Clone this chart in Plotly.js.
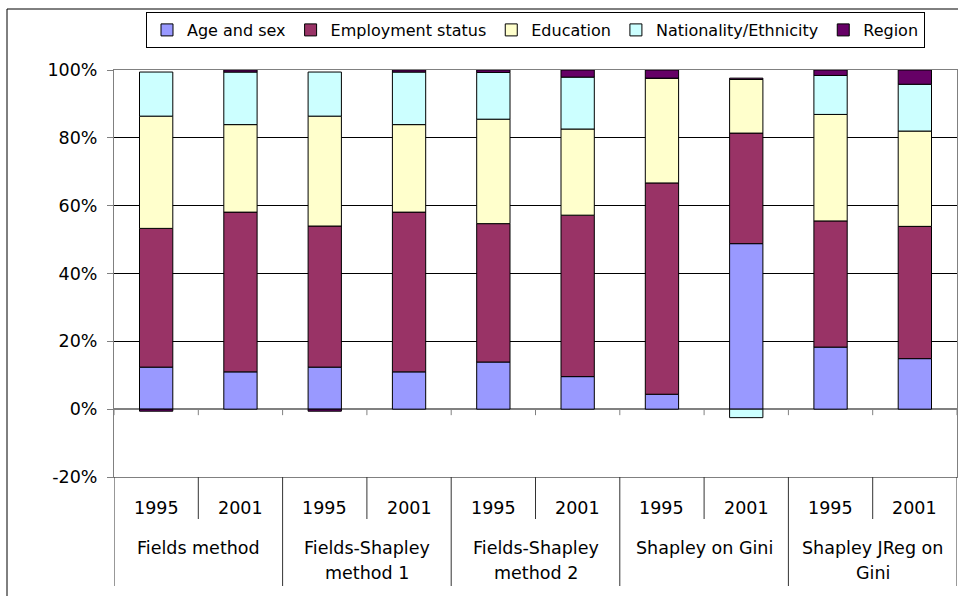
<!DOCTYPE html>
<html>
<head>
<meta charset="utf-8">
<script src="https://cdn.plot.ly/plotly-3.0.1.min.js"></script>
<style>
html,body{margin:0;padding:0;background:#fff;}
#chart{width:958px;height:596px;}
</style>
</head>
<body>
<div id="chart"></div>
<script>
// ---- data (percent of total inequality explained) ----
const groups = ["Fields method", "Fields-Shapley<br>method 1", "Fields-Shapley<br>method 2", "Shapley on Gini", "Shapley JReg on<br>Gini"];
const years = ["1995", "2001"];
const seriesNames = ["Age and sex", "Employment status", "Education", "Nationality/Ethnicity", "Region"];
const ageSex      = [12.4, 11.0, 12.4, 11.0, 13.9,  9.6,  4.4, 48.8, 18.3, 14.9];
const employment  = [40.9, 47.1, 41.6, 47.1, 40.8, 47.6, 62.3, 32.6, 37.2, 39.0];
const education   = [33.1, 25.8, 32.4, 25.8, 30.8, 25.4, 30.9, 15.8, 31.4, 28.1];
const nationality = [13.0, 15.5, 13.0, 15.5, 13.8, 15.3,  0.0, -2.5, 11.5, 13.8];
const region      = [-0.6,  0.6, -0.6,  0.6,  0.7,  2.1,  2.4,  0.4,  1.6,  4.2];
const yTicks = [-20, 0, 20, 40, 60, 80, 100];

// ---- styling ----
const colors = ["#9999FF", "#993366", "#FFFFCC", "#CCFFFF", "#660066"];
const FONT = "DejaVu Sans, Liberation Sans, Arial, sans-serif";
const FS = 17.5;
const LFS = 16;

// category keys (one per bar)
const cats = [];
groups.forEach(g => years.forEach(y => cats.push(g.replace("<br>", " ") + " | " + y)));

const values = [ageSex, employment, education, nationality, region];
const traces = values.map((v, i) => ({
  type: "bar",
  name: seriesNames[i],
  x: cats,
  y: v,
  marker: {color: colors[i], line: {color: "#000", width: 1}},
  hoverinfo: "name+y"
}));

// plot area geometry (pixels)
const W = 958, H = 596;
const M = {l: 114, r: 1, t: 70, b: 119};
const PW = W - M.l - M.r, PH = H - M.t - M.b;
const px2x = p => (p - M.l) / PW;
const py2y = p => (H - M.b - p) / PH;

const shapes = [];
// outer chart-area frame
shapes.push({type: "rect", xref: "paper", yref: "paper",
  x0: px2x(7), x1: px2x(975), y0: py2y(615), y1: py2y(9),
  line: {color: "#000", width: 1}, fillcolor: "rgba(0,0,0,0)", layer: "below"});
// small tick marks under the 0% category axis
for (let k = 0; k <= cats.length; k++) {
  shapes.push({type: "line", xref: "x", yref: "y", ysizemode: "pixel", yanchor: 0,
    x0: k - 0.5, x1: k - 0.5, y0: 0, y1: -6, line: {color: "#808080", width: 1}, layer: "above"});
}
// divider lines of the two-level category labels
for (let k = 0; k <= cats.length; k++) {
  const isGroup = (k % years.length) === 0;
  shapes.push({type: "line", xref: "x", yref: "paper", ysizemode: "pixel", yanchor: 0,
    x0: k - 0.5, x1: k - 0.5, y0: 0, y1: isGroup ? -109 : -42,
    line: {color: "#333", width: 1}, layer: "above"});
}

const annotations = [];
cats.forEach((c, i) => {
  annotations.push({x: i, xref: "x", y: 0, yref: "paper", yshift: -31, yanchor: "middle",
    xanchor: "center", text: years[i % years.length], showarrow: false,
    font: {family: FONT, size: FS, color: "#000"}});
});
groups.forEach((g, gi) => {
  g.split("<br>").forEach((line, li) => {
    annotations.push({x: gi * years.length + (years.length - 1) / 2, xref: "x", y: 0, yref: "paper",
      yshift: -71 - 25 * li, yanchor: "middle", xanchor: "center", text: line, showarrow: false,
      font: {family: FONT, size: FS, color: "#000"}});
  });
});

const layout = {
  width: W, height: H,
  margin: M,
  paper_bgcolor: "#fff", plot_bgcolor: "#fff",
  barmode: "relative",
  bargap: 0.605,
  font: {family: FONT, size: FS, color: "#000"},
  showlegend: true,
  legend: {orientation: "h", x: 0.5, xanchor: "center", y: py2y(12), yanchor: "top",
    bordercolor: "#000", borderwidth: 1, bgcolor: "#fff",
    font: {family: FONT, size: LFS, color: "#000"}, itemwidth: 30, traceorder: "normal"},
  xaxis: {type: "category", categoryorder: "array", categoryarray: cats,
    range: [-0.5, cats.length - 0.5], showticklabels: false, ticks: "",
    showgrid: false, zeroline: false, showline: true, mirror: true, linecolor: "#808080", linewidth: 1,
    fixedrange: true},
  yaxis: {range: [-20, 100], tickvals: yTicks, ticktext: yTicks.map(v => v + "%"),
    ticks: "outside", ticklen: 6, tickcolor: "#808080", tickwidth: 1, ticklabelstandoff: 6,
    showgrid: true, gridcolor: "#000", gridwidth: 1,
    zeroline: true, zerolinecolor: "#808080", zerolinewidth: 1.5,
    showline: true, mirror: true, linecolor: "#808080", linewidth: 1,
    tickfont: {family: FONT, size: FS, color: "#000"}, fixedrange: true},
  shapes: shapes,
  annotations: annotations
};

Plotly.newPlot("chart", traces, layout, {displayModeBar: false, staticPlot: true});
</script>
</body>
</html>
